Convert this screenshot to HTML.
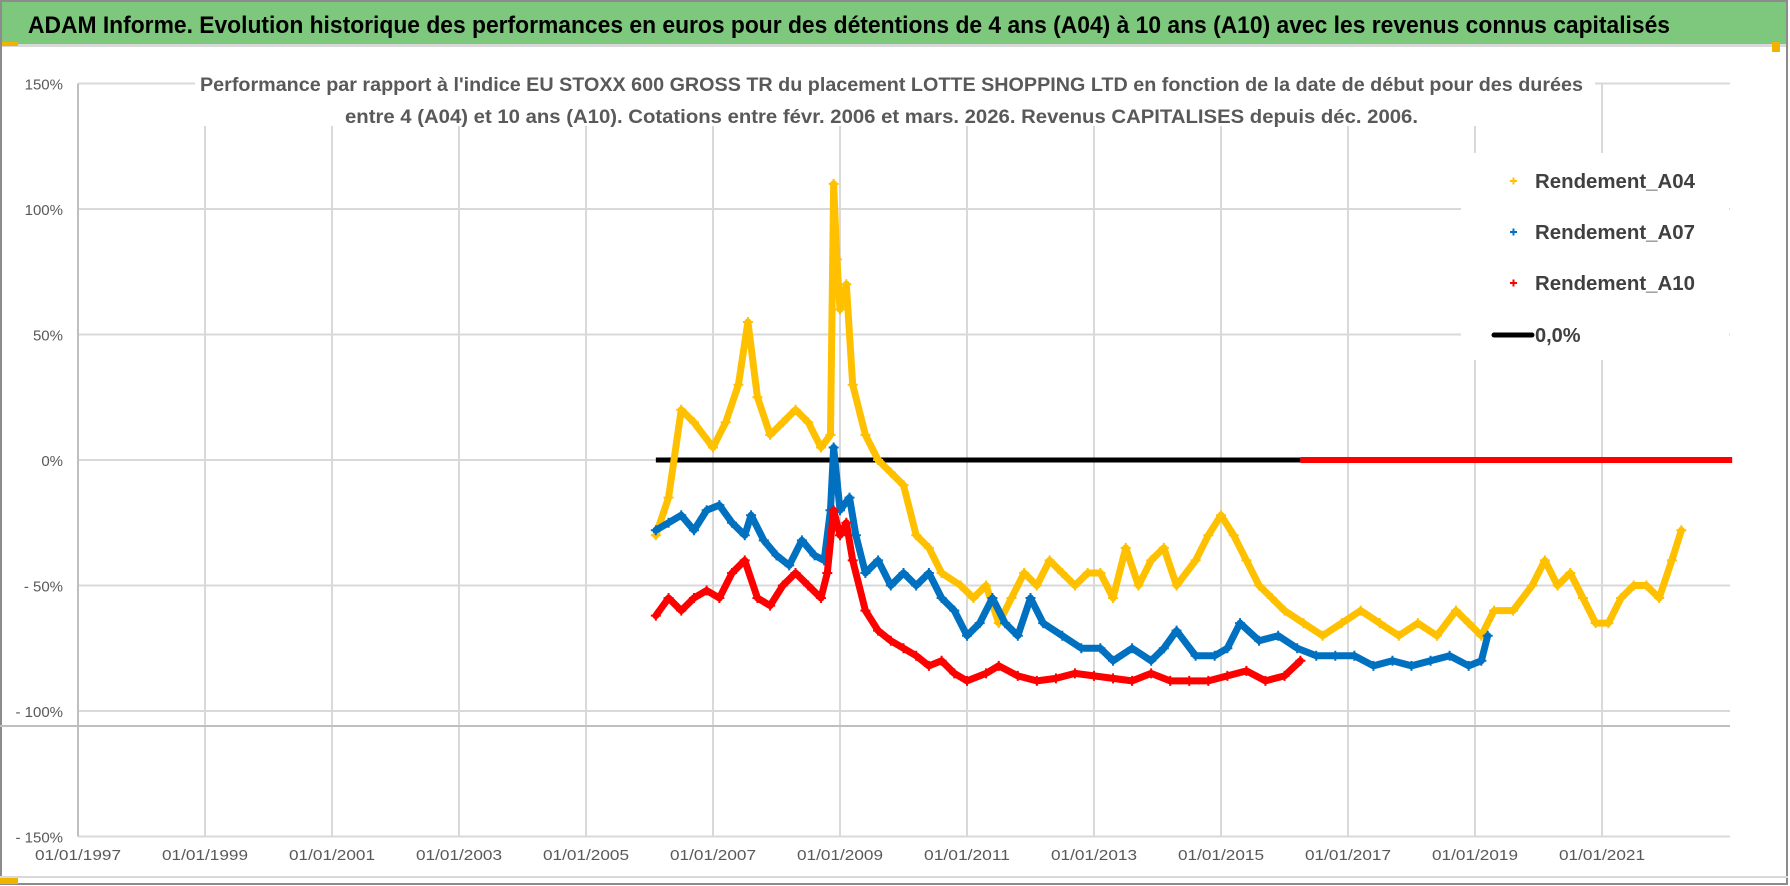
<!DOCTYPE html>
<html><head><meta charset="utf-8"><style>
html,body{margin:0;padding:0;background:#fff;}
svg{display:block;font-family:"Liberation Sans",sans-serif;}
</style></head><body>
<svg id="chart" width="1790" height="886" viewBox="0 0 1790 886" xmlns="http://www.w3.org/2000/svg">
<rect x="0" y="0" width="1790" height="886" fill="#fff"/>
<rect x="0" y="0" width="1788" height="44" fill="#7dc87d"/>
<rect x="0" y="44" width="1788" height="3" fill="#d9d9d9"/>
<rect x="0" y="42" width="18" height="4" fill="#f0b400"/>
<rect x="1772" y="42" width="8" height="10" fill="#f0b400"/>
<rect x="1" y="1" width="1786" height="883" fill="none" stroke="#8c8c8c" stroke-width="2"/>
<rect x="0" y="878" width="18" height="6" fill="#f0b400"/>
<line x1="0" y1="877" x2="1788" y2="877" stroke="#d9d9d9" stroke-width="2"/>
<text x="28" y="33" font-size="24" font-weight="bold" fill="#000" textLength="1642" lengthAdjust="spacingAndGlyphs">ADAM Informe. Evolution historique des performances en euros pour des détentions de 4 ans (A04) à 10 ans (A10) avec les revenus connus capitalisés</text>
<g id="grid"></g>
<g id="yaxis"></g>
<g id="xaxis"></g>
<line x1="0" y1="726" x2="1730" y2="726" stroke="#bfbfbf" stroke-width="2"/>
<rect x="195" y="66" width="1400" height="60" fill="#fff"/>
<text x="200" y="91" font-size="19" font-weight="bold" fill="#595959" textLength="1383" lengthAdjust="spacingAndGlyphs">Performance par rapport à l'indice EU STOXX 600 GROSS TR  du placement LOTTE SHOPPING LTD en fonction de la date de début pour des durées</text>
<text x="345" y="123" font-size="19" font-weight="bold" fill="#595959" textLength="1073" lengthAdjust="spacingAndGlyphs">entre 4 (A04) et 10 ans (A10).  Cotations entre févr. 2006 et mars. 2026. Revenus CAPITALISES depuis déc. 2006.</text>
<g id="series"></g>
<g id="legend">
<rect x="1461" y="153" width="268" height="207" fill="#fff"/>
</g>
</svg>
<script>
const NS="http://www.w3.org/2000/svg";
const yTicks=[150,100,50,0,-50,-100,-150];
const yTickLabels=["150%","100%","50%","0%","- 50%","- 100%","- 150%"];
const xTicks=[1997,1999,2001,2003,2005,2007,2009,2011,2013,2015,2017,2019,2021];
const xTickLabels=["01/01/1997","01/01/1999","01/01/2001","01/01/2003","01/01/2005","01/01/2007","01/01/2009","01/01/2011","01/01/2013","01/01/2015","01/01/2017","01/01/2019","01/01/2021"];
const a04Dates=[2006.1,2006.3,2006.5,2006.7,2007.0,2007.2,2007.4,2007.55,2007.7,2007.9,2008.1,2008.3,2008.5,2008.7,2008.85,2008.9,2008.95,2009.0,2009.1,2009.2,2009.4,2009.6,2009.8,2010.0,2010.2,2010.4,2010.6,2010.9,2011.1,2011.3,2011.5,2011.7,2011.9,2012.1,2012.3,2012.5,2012.7,2012.9,2013.1,2013.3,2013.5,2013.7,2013.9,2014.1,2014.3,2014.6,2014.8,2015.0,2015.2,2015.4,2015.6,2015.8,2016.0,2016.3,2016.6,2016.9,2017.2,2017.5,2017.8,2018.1,2018.4,2018.7,2018.9,2019.1,2019.3,2019.6,2019.9,2020.1,2020.3,2020.5,2020.7,2020.9,2021.1,2021.3,2021.5,2021.7,2021.9,2022.1,2022.25];
const a04Values=[-30,-15,20,15,5,15,30,55,25,10,15,20,15,5,10,110,80,60,70,30,10,0,-5,-10,-30,-35,-45,-50,-55,-50,-65,-55,-45,-50,-40,-45,-50,-45,-45,-55,-35,-50,-40,-35,-50,-40,-30,-22,-30,-40,-50,-55,-60,-65,-70,-65,-60,-65,-70,-65,-70,-60,-65,-70,-60,-60,-50,-40,-50,-45,-55,-65,-65,-55,-50,-50,-55,-40,-28];
const a07Dates=[2006.1,2006.3,2006.5,2006.7,2006.9,2007.1,2007.3,2007.5,2007.6,2007.8,2008.0,2008.2,2008.4,2008.6,2008.75,2008.85,2008.9,2009.0,2009.15,2009.25,2009.4,2009.6,2009.8,2010.0,2010.2,2010.4,2010.6,2010.8,2011.0,2011.2,2011.4,2011.6,2011.8,2012.0,2012.2,2012.5,2012.8,2013.1,2013.3,2013.6,2013.9,2014.1,2014.3,2014.6,2014.9,2015.1,2015.3,2015.6,2015.9,2016.2,2016.5,2016.8,2017.1,2017.4,2017.7,2018.0,2018.3,2018.6,2018.9,2019.1,2019.2];
const a07Values=[-28,-25,-22,-28,-20,-18,-25,-30,-22,-32,-38,-42,-32,-38,-40,-20,5,-20,-15,-30,-45,-40,-50,-45,-50,-45,-55,-60,-70,-65,-55,-65,-70,-55,-65,-70,-75,-75,-80,-75,-80,-75,-68,-78,-78,-75,-65,-72,-70,-75,-78,-78,-78,-82,-80,-82,-80,-78,-82,-80,-70];
const a10Dates=[2006.1,2006.3,2006.5,2006.7,2006.9,2007.1,2007.3,2007.5,2007.7,2007.9,2008.1,2008.3,2008.5,2008.7,2008.8,2008.9,2009.0,2009.1,2009.2,2009.4,2009.6,2009.8,2010.0,2010.2,2010.4,2010.6,2010.8,2011.0,2011.3,2011.5,2011.8,2012.1,2012.4,2012.7,2013.0,2013.3,2013.6,2013.9,2014.2,2014.5,2014.8,2015.1,2015.4,2015.7,2016.0,2016.25];
const a10Values=[-62,-55,-60,-55,-52,-55,-45,-40,-55,-58,-50,-45,-50,-55,-45,-20,-30,-25,-40,-60,-68,-72,-75,-78,-82,-80,-85,-88,-85,-82,-86,-88,-87,-85,-86,-87,-88,-85,-88,-88,-88,-86,-84,-88,-86,-80];
const zeroStart=2006.1, zeroEnd=2016.25, a10ZeroEnd=2023.05;
const refLevel=0;

const X0=78, PER_YEAR=63.5, Y0=460, PER_PCT=125.5/50;
const xs=y=>X0+(y-1997)*PER_YEAR;
const ys=v=>Y0-v*PER_PCT;
const PR=1730;
const mk=(t,a,p)=>{const e=document.createElementNS(NS,t);for(const k in a)e.setAttribute(k,a[k]);(p||document.getElementById('chart')).appendChild(e);return e;};

const grid=document.getElementById('grid');
yTicks.forEach((v,i)=>{
  const l=mk('line',{x1:X0,x2:PR,y1:ys(v),y2:ys(v),stroke:'#d9d9d9','stroke-width':2},grid);
  
  
  const t=mk('text',{x:63,y:ys(v)+6,'text-anchor':'end','font-size':15,fill:'#595959'},document.getElementById('yaxis'));
  t.textContent=yTickLabels[i];
  
  
});
xTicks.forEach((yr,i)=>{
  const l=mk('line',{x1:xs(yr),x2:xs(yr),y1:ys(150),y2:ys(-150),stroke:'#d9d9d9','stroke-width':2},grid);
  
  
  const t=mk('text',{x:xs(yr),y:860,'text-anchor':'middle','font-size':15,fill:'#595959',textLength:86,lengthAdjust:'spacingAndGlyphs'},document.getElementById('xaxis'));
  t.textContent=xTickLabels[i];
  
  
});
mk('line',{x1:X0,x2:X0,y1:ys(150),y2:ys(-150),stroke:'#bfbfbf','stroke-width':2},grid);

const sg=document.getElementById('series');
const zl=mk('line',{x1:xs(zeroStart),x2:xs(zeroEnd),y1:ys(refLevel),y2:ys(refLevel),stroke:'#000','stroke-width':5},sg);


const rz=mk('line',{x1:xs(zeroEnd),x2:xs(a10ZeroEnd),y1:ys(refLevel),y2:ys(refLevel),stroke:'#ff0000','stroke-width':6},sg);



function drawSeries(dates,vals,color,name){
  const g=mk('g',{},sg);
  
  
  const pts=dates.map((d,i)=>xs(d)+','+ys(vals[i])).join(' ');
  mk('polyline',{points:pts,fill:'none',stroke:color,'stroke-width':7,'stroke-linejoin':'round','stroke-linecap':'round'},g);
  let d='';
  dates.forEach((dt,i)=>{const x=xs(dt),y=ys(vals[i]);d+=`M${x-5},${y}h10M${x},${y-5}v10`;});
  mk('path',{d:d,stroke:color,'stroke-width':2,fill:'none'},g);
}
drawSeries(a04Dates,a04Values,'#ffc000','series-rendement-a04');
drawSeries(a07Dates,a07Values,'#0070c0','series-rendement-a07');
drawSeries(a10Dates,a10Values,'#ff0000','series-rendement-a10');

const lg=document.getElementById('legend');
const legendNames=["Rendement_A04","Rendement_A07","Rendement_A10","0,0%"];
const legendColors=['#ffc000','#0070c0','#ff0000','#000'];
const legendY=[181,232,283,335];
legendNames.forEach((n,i)=>{
  const y=legendY[i];
  if(i<3){
    mk('path',{d:`M1510,${y}h7M1513.5,${y-3.5}v7`,stroke:legendColors[i],'stroke-width':2},lg);
  } else {
    mk('line',{x1:1494,x2:1532,y1:y,y2:y,stroke:'#000','stroke-width':5,'stroke-linecap':'round'},lg);
  }
  const t=mk('text',{x:1535,y:y+7,'font-size':20,'font-weight':'bold',fill:'#404040'},lg);
  t.textContent=n;
  if(i<3){t.setAttribute('textLength',160);t.setAttribute('lengthAdjust','spacingAndGlyphs');}
  
  
});
</script>
</body></html>
